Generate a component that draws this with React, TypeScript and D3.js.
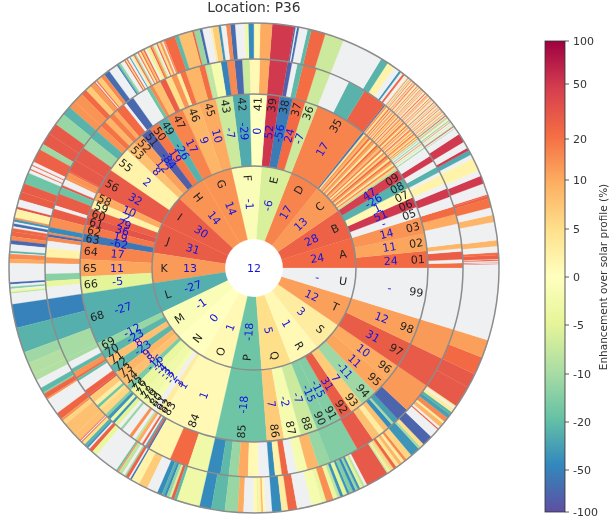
import React from "react";
import * as d3 from "d3";

type Seg = [number | null, number];

const categories = ["A","B","C","D","E","F","G","H","I","J","K","L","M","N","O","P","Q","R","S","T","U"];
const categoryValues: (number | null)[] = [24,28,13,17,-6,-1,14,14,30,31,13,-27,-1,0,1,-18,5,1,3,12,null];
const childCounts = [3,5,25,1,4,3,3,5,2,6,3,1,6,9,1,1,3,4,3,2,1];
const detailLabels = ["01","02","03","05","06","07","08","09",
  "","","","","","","","","","","","","","","","","","","","","","","","","",
  "35","36","37","38","39","41","42","43","45","46","47","49","50","51","52","53","55","56",
  "58","59","60","61","62","63","64","65","66","68","69","70","71","72","73","74",
  "75","76","77","78","79","80","81","82","83","84","85","86","87","88","90","91","92","93","94","95","96","97","98","99"];
const detailValues: (number | null)[] = [24,11,14,null,51,1,-26,47,
  -9,6,16,3,11,20,4,13,25,6,15,2,18,8,13,23,3,11,16,5,21,9,14,4,-62,
  17,-7,24,-56,52,0,-29,-7,10,9,17,-26,19,-84,12,8,2,32,
  10,2,29,36,19,-62,17,11,-5,-27,-12,-23,8,-23,9,8,
  -16,-4,-4,-3,-3,-2,null,3,1,1,-18,7,-2,-7,-15,-15,31,7,-11,11,10,31,12,null];

const ring3: Seg[][] = [
  [[22,1.4],[null,1],[30,2.2],[null,.8],[9,1.4],[null,5.5],[10,2.7],[23,2.14]],
  [[null,2.9],[50,2.4],[null,1.6],[2,2.5],[null,.9],[-26,1.6],[null,1.8],[50,1.7],[null,1.8]],
  [[null,.7],[-12,.3],[null,.4],[-6,.3],[null,.3],[14,.25],[null,.3],[-14,.3],[null,.3],[-9,.3],[null,.2],[12,.3],[-5,.25],[16,.3],[3,.3],[9,.3],[20,.3],[4,.3],[13,.3],[2,.25],[10,.3],[22,.3],[null,.2],[7,.3],[15,.3],[3,.25],[19,.3],[8,.3],[1,.25],[13,.3],[26,.3],[5,.3],[11,.3],[2,.25],[17,.3],[8,.3],[null,.2],[21,.3],[4,.3],[12,.3],[6,.25],[24,.3],[3,.3],[14,.3],[9,.25],[null,.2],[18,.3],[5,.3],[23,.3],[7,.3],[2,.25],[16,.3],[10,.3],[-70,.3]],
  [[28,6.6],[-25,5],[null,5.57]],
  [[-7,4.03],[22,3.8],[-22,1.6],[null,1.5],[-80,1.2],[50,5]],
  [[10,2.7],[1,2.8],[-7,2.1],[-75,2.1],[16,2.1],[-50,1.7],[-2,2.8],[-8,.9]],
  [[-8,.84],[22,1.6],[9,3.9],[20,1.6],[3,1],[14,1.6],[5,1.7],[30,1.7],[8,2.2],[16,1]],
  [[-18,1],[null,4.4],[-75,2.4],[null,.8],[24,2.5],[10,1.2],[18,1.5],[9,1.7],[20,1.6]],
  [[14,1.8],[-25,2.5],[-11,3.4],[33,4],[33,3.5],[26,.5],[14,1.44]],
  [[14,.6],[null,1.8],[33,.6],[-18,2],[31,3.4],[null,1],[31,2.4],[15,2.8],[-45,1.5],[16,.6],[-75,.7]],
  [[16,1.1],[null,2],[2,2.5],[13,1.7],[null,2.9],[-14,2],[-4,1.6],[null,3.3]],
  [[-50,5.6],[-27,6],[-10,5.5]],
  [[-10,1.3],[null,2],[-22,1.2],[14,1.4],[25,.6],[-20,.8],[null,3.2],[28,1.6],[30,.6],[7,2],[3,1.2],[-18,.8],[5,.84]],
  [[6,1.5],[-15,.7],[-40,.8],[-3,.8],[-40,.6],[-5,1],[null,.8],[-12,.6],[null,2],[15,.8],[null,.8],[-8,.5],[10,.8],[null,.6],[28,.5],[null,.4],[-30,.4],[30,.4],[-70,.4]],
  [[1.5,6.3],[24,5.3],[-3,5.54]],
  [[-45,3.6],[-22,2.3],[-12,2.6],[10,2.7],[1,2.9],[null,3]],
  [[-45,1.5],[2,1.8],[26,1.7],[null,2.4],[-2,2.8],[9,3.1],[-12,3.2]],
  [[-15,8.3],[33,5],[8,2.3],[3,1.54]],
  [[8,1.5],[-45,1.3],[-10,.7],[-35,1.5],[-78,3.6],[13,8.6]],
  [[32,8.6],[13,8.57]],
  [[null,17.14]],
];

const ring4: Seg[][] = [
  [[null,.9],[40,.1],[null,.2],[40,.1],[null,.3],[28,.3],[null,.1],[28,.9],[22,.6],[null,1.4],[9,1.3],[null,4.1],[9,1.6],[null,1.7],[20,2],[28,.64]],
  [[26,.4],[null,2.8],[50,2],[null,1.5],[2,3.2],[null,1],[-30,1.2],[50,.7],[null,1.7],[50,2.2],[null,1.2]],
  [[null,.5],[-10,.2],[null,.3],[28,.2],[-14,.2],[null,.4],[-6,.2],[null,.4],[16,.2],[null,.2],[-12,.3],[-3,.2],[null,.3],[8,.2],[-9,.3],[null,.2],[26,.2],[-16,.2],[null,.2],[12,.25],[3,.2],[null,.2],[16,.2],[null,.15],[8,.25],[-6,.2],[null,.2],[24,.2],[null,.15],[6,.25],[13,.2],[null,.2],[3,.2],[18,.2],[null,.2],[9,.25],[null,.15],[-8,.2],[22,.2],[null,.2],[5,.25],[null,.15],[14,.2],[7,.2],[null,.2],[20,.2],[3,.2],[null,.2],[11,.25],[null,.15],[17,.2],[5,.2],[null,.2],[26,.2],[8,.2],[null,.15],[2,.2],[15,.2],[null,.2],[10,.25],[null,.15],[21,.2],[-4,.2],[null,.2],[12,.2],[6,.2],[null,.15],[18,.2],[3,.25],[null,.2],[9,.2],[24,.2],[null,.15],[7,.2],[14,.25],[null,.2],[4,.2],[19,.2],[null,.2],[11,.2],[-7,.2],[null,.15],[16,.2],[6,.2],[null,.2]],
  [[null,.6],[26,.5],[null,.6],[-40,.5],[null,1.4],[2,1.8],[-25,1.8],[null,9.77]],
  [[-7,4.4],[25,3.3],[-22,.9],[null,2],[-70,.5],[null,.3],[-70,.3],[50,5.1]],
  [[10,2.8],[1,1.5],[-45,1.3],[-3,.9],[null,2.2],[-70,1.1],[16,1],[null,1.2],[-40,.6],[7,1.4],[3,.5],[null,1.9],[-75,.6]],
  [[-12,1.3],[26,.4],[8,3],[-22,.9],[24,2.3],[15,.4],[null,.3],[13,.5],[5,.5],[26,.3],[null,.4],[-6,.4],[12,.4],[30,.3],[4,.5],[-4,.4],[null,.4],[26,.3],[8,.4],[22,.3],[3,.4],[18,.3],[null,.4],[-10,.3],[24,.3],[4,.4]],
  [[null,.4],[-30,.3],[null,.5],[26,.3],[4,.3],[26,.3],[null,1],[-12,.5],[-25,.3],[-60,.3],[null,2.2],[-70,1.4],[16,1],[7,1.2],[22,.3],[null,.3],[22,.3],[13,1.2],[7,1.4],[24,1.4],[14,2.4]],
  [[14,1.8],[-25,2.2],[-12,2.9],[33,2.7],[33,2.8],[-11,1.5],[28,3.2]],
  [[null,.7],[26,.25],[null,.7],[26,.25],[null,.7],[-18,2.4],[31,1.8],[31,1.7],[null,1.6],[36,.5],[2,1.8],[14,.4],[-40,.5],[null,.4],[-70,.6],[null,.4],[26,.7]],
  [[26,1],[16,.8],[-75,.8],[null,1.4],[-25,.4],[null,.2],[16,1],[10,.9],[null,3.9],[-75,.4],[null,.5],[-15,.4],[null,.3],[-3,.4],[-8,.3],[null,2.2]],
  [[-50,5.6],[-25,6],[-11,2.7],[-9,2.84]],
  [[-9,1.6],[null,2],[-22,1.2],[-14,.3],[26,1.2],[14,.4],[null,3.8],[26,1.6],[14,.6],[6,1],[8,3.1]],
  [[8,1.4],[26,.2],[null,.2],[26,.2],[5,.6],[-25,.5],[-40,.4],[null,.3],[28,.7],[-4,1],[null,4.5],[-20,.3],[14,.3],[-8,.7],[null,.5],[-12,.3],[28,.6],[null,.3],[-60,.3]],
  [[2,2],[7,2.1],[null,2.6],[-45,1.1],[-25,.6],[-45,.6],[-12,.7],[-6,.5],[30,.7],[-22,.7],[-3,5.44]],
  [[-45,2.8],[-22,3.2],[-12,3],[10,1.4],[null,2.4],[1,.8],[-4,.4],[2,.6],[9,.4],[1,.6],[null,1.54]],
  [[-45,2.2],[3,1.5],[26,2.1],[null,3.4],[-2,2.5],[-4,1],[15,1.7],[-4,1],[-8,.7],[-42,.7]],
  [[-5,.9],[-40,.5],[-15,.8],[-45,.6],[-12,.5],[-40,.5],[-5,.6],[-8,.5],[null,.5],[33,4.8],[-8,.3],[3,.4],[-6,.3],[6,.6],[26,.7],[4,.7],[9,.7],[3,.6],[16,.6]],
  [[6,1.4],[-40,2.2],[-10,.6],[5,.9],[-78,2.4],[null,2.2],[26,.3],[null,.5],[9,1],[3,.5],[16,1.1],[-35,.9],[-25,.7],[3,.9],[null,.4],[3,.4]],
  [[33,5.1],[33,3.5],[24,4.3],[12,4.3]],
  [[null,17.14]],
];

const centerLabel = "12";
const tickValues = [-100,-50,-20,-10,-5,0,5,10,20,50,100];
const tickPixels = [512,470,422,374,325,277,229,180,139,84,41];
const spectral = ["#9e0142","#d53e4f","#f46d43","#fdae61","#fee08b","#ffffbf","#e6f598","#abdda4","#66c2a5","#3288bd","#5e4fa2"];

const CX = 254, CY = 268;
const EDGES = [29, 102, 174, 209, 245];
const NAN = "#eff0f2";
const FONT = "'DejaVu Sans', sans-serif";
const barTop = 41, barBottom = 512, barLeft = 545, barRight = 565;

const yScale = d3.scaleLinear<number>().domain(tickValues).range(tickPixels);
const cmap = d3.scaleLinear<string>().domain(d3.range(11).map((i) => 1 - i / 10)).range(spectral).interpolate(d3.interpolateRgb);
const color = (v: number | null) =>
  v === null ? NAN : cmap((barBottom - yScale(v)) / (barBottom - barTop));

const catAngle = d3.scaleLinear().domain([0, categories.length]).range([0, 360]);
const arcGen = d3.arc<{ r0: number; r1: number; a0: number; a1: number }>()
  .innerRadius((d) => d.r0).outerRadius((d) => d.r1)
  .startAngle((d) => ((90 - d.a1) * Math.PI) / 180)
  .endAngle((d) => ((90 - d.a0) * Math.PI) / 180);

const polar = (r: number, deg: number): [number, number] => [
  CX + r * Math.cos((deg * Math.PI) / 180),
  CY - r * Math.sin((deg * Math.PI) / 180),
];
const textRot = (deg: number) => -(deg <= 90 || deg >= 270 ? deg : deg - 180);

function Wedge({ r0, r1, a0, a1, v }: { r0: number; r1: number; a0: number; a1: number; v: number | null }) {
  const c = color(v);
  return <path d={arcGen({ r0, r1, a0, a1 }) as string} transform={`translate(${CX},${CY})`} fill={c} stroke={c} strokeWidth={0.25} />;
}

function Label({ r, deg, text, fill, size = 11 }: { r: number; deg: number; text: string; fill: string; size?: number }) {
  const [x, y] = polar(r, deg);
  return (
    <text x={x} y={y} transform={`rotate(${textRot(deg)},${x},${y})`} textAnchor="middle" dominantBaseline="central"
      fontFamily={FONT} fontSize={size} fill={fill}>{text}</text>
  );
}

export default function App() {
  const detail: { a0: number; a1: number; i: number }[] = [];
  let idx = 0;
  childCounts.forEach((n, c) => {
    const sc = d3.scaleLinear().domain([0, n]).range([catAngle(c), catAngle(c + 1)]);
    for (let k = 0; k < n; k++) detail.push({ a0: sc(k), a1: sc(k + 1), i: idx++ });
  });

  const renderRing = (segs: Seg[][], r0: number, r1: number) =>
    segs.map((list, c) => {
      const total = d3.sum(list, (s) => s[1]);
      const sc = d3.scaleLinear().domain([0, total]).range([catAngle(c), catAngle(c + 1)]);
      let acc = 0;
      return list.map((s, k) => {
        const a0 = sc(acc);
        acc += s[1];
        return <Wedge key={`${r0}-${c}-${k}`} r0={r0} r1={r1} a0={a0} a1={sc(acc)} v={s[0]} />;
      });
    });

  return (
    <svg width={610} height={523} style={{ position: "fixed", left: 0, top: 0, display: "block", filter: "blur(0.3px)" }}>
      <rect width={610} height={523} fill="#fff" />
      <text x={CX} y={12} textAnchor="middle" fontFamily={FONT} fontSize={13.8} fill="#333">Location: P36</text>

      {categories.map((_, i) => (
        <Wedge key={i} r0={EDGES[0]} r1={EDGES[1]} a0={catAngle(i)} a1={catAngle(i + 1)} v={categoryValues[i]} />
      ))}
      {detail.map((d) => (
        <Wedge key={d.i} r0={EDGES[1]} r1={EDGES[2]} a0={d.a0} a1={d.a1} v={detailValues[d.i]} />
      ))}
      {renderRing(ring3, EDGES[2], EDGES[3])}
      {renderRing(ring4, EDGES[3], EDGES[4])}

      {EDGES.slice(1).map((r) => (
        <circle key={r} cx={CX} cy={CY} r={r} fill="none" stroke="#8c8c8c" strokeWidth={1.5} />
      ))}

      {categories.map((c, i) => {
        const mid = catAngle(i + 0.5);
        const v = categoryValues[i];
        return (
          <g key={c}>
            <Label r={90} deg={mid} text={c} fill="#222" />
            <Label r={64} deg={mid} text={v === null ? "-" : String(v)} fill="#1414e0" />
          </g>
        );
      })}
      {detail.map((d) => {
        const lab = detailLabels[d.i];
        if (!lab) return null;
        const mid = (d.a0 + d.a1) / 2;
        const v = detailValues[d.i];
        return (
          <g key={d.i}>
            <Label r={137} deg={mid} text={v === null ? "-" : String(v)} fill="#1414e0" />
            <Label r={164} deg={mid} text={lab} fill="#222" />
          </g>
        );
      })}
      <text x={CX} y={CY} textAnchor="middle" dominantBaseline="central" fontFamily={FONT} fontSize={11} fill="#1414e0">{centerLabel}</text>

      <defs>
        <linearGradient id="cb" x1="0" y1="0" x2="0" y2="1">
          {spectral.map((c, i) => <stop key={i} offset={i / 10} stopColor={c} />)}
        </linearGradient>
      </defs>
      <rect x={barLeft} y={barTop} width={barRight - barLeft} height={barBottom - barTop} fill="url(#cb)" stroke="#333" strokeWidth={0.8} />
      {tickValues.map((v) => {
        const y = yScale(v);
        return (
          <g key={v}>
            <line x1={barRight} x2={barRight + 4} y1={y} y2={y} stroke="#333" strokeWidth={0.8} />
            <text x={barRight + 8} y={y} dominantBaseline="central" fontFamily={FONT} fontSize={11} fill="#333">{v}</text>
          </g>
        );
      })}
      <text transform="translate(607,277) rotate(-90)" textAnchor="middle" fontFamily={FONT} fontSize={10.5} fill="#333">
        Enhancement over solar profile (%)
      </text>
    </svg>
  );
}
